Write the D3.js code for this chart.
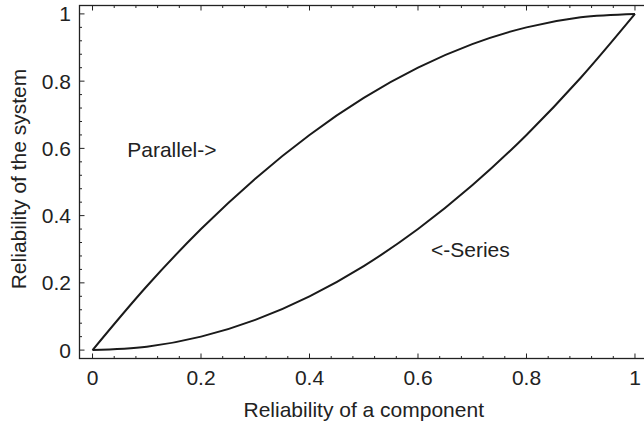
<!DOCTYPE html>
<html>
<head>
<meta charset="utf-8">
<script src="https://cdn.jsdelivr.net/npm/d3@7"></script>
<style>
  body { margin: 0; background: #fff; }
  text { font-family: "Liberation Sans", Arial, sans-serif; fill: #222; }
</style>
</head>
<body>
<div id="chart"></div>
<script>
// values
const components = [0, 0.1, 0.2, 0.3, 0.4, 0.5, 0.6, 0.7, 0.8, 0.9, 1];
const seriesValues = [0, 0.01, 0.04, 0.09, 0.16, 0.25, 0.36, 0.49, 0.64, 0.81, 1];
const parallelValues = [0, 0.19, 0.36, 0.51, 0.64, 0.75, 0.84, 0.91, 0.96, 0.99, 1];
const xTicks = [0, 0.2, 0.4, 0.6, 0.8, 1];
const yTicks = [0, 0.2, 0.4, 0.6, 0.8, 1];
const xTickLabels = ["0", "0.2", "0.4", "0.6", "0.8", "1"];
const yTickLabels = ["0", "0.2", "0.4", "0.6", "0.8", "1"];
const minorTicks = d3.range(0, 1.0001, 0.04);

const width = 644, height = 422;
const fontSize = 21;

const svg = d3.select("#chart")
  .append("svg")
  .attr("width", width)
  .attr("height", height);

// frame of the plot, right edge falls outside the picture
const plotLeft = 79.5, plotRight = 648, plotTop = 5.5, plotBottom = 358.5;

const x = d3.scaleLinear().domain([-0.024, 1.024]).range([plotLeft, plotRight]);
const y = d3.scaleLinear().domain([-0.025, 1.025]).range([plotBottom, plotTop]);

//frame
svg.append("rect")
  .attr("x", plotLeft)
  .attr("y", plotTop)
  .attr("width", plotRight - plotLeft)
  .attr("height", plotBottom - plotTop)
  .attr("fill", "none")
  .attr("stroke", "#222")
  .attr("stroke-width", 1.3);

//ticks pointing inward, on all visible sides
function tickLen(v) {
  return xTicks.some((t) => Math.abs(t - v) < 1e-6) ? 5 : 2.5;
}
const ticks = svg.append("g").attr("stroke", "#222").attr("stroke-width", 1);
minorTicks.forEach((v) => {
  ticks.append("line")
    .attr("x1", x(v)).attr("x2", x(v))
    .attr("y1", plotBottom).attr("y2", plotBottom - tickLen(v));
  ticks.append("line")
    .attr("x1", x(v)).attr("x2", x(v))
    .attr("y1", plotTop).attr("y2", plotTop + tickLen(v));
  ticks.append("line")
    .attr("x1", plotLeft).attr("x2", plotLeft + tickLen(v))
    .attr("y1", y(v)).attr("y2", y(v));
});

//tick labels
svg.append("g")
  .selectAll("text")
  .data(xTicks)
  .enter()
  .append("text")
  .attr("x", (d) => x(d))
  .attr("y", 377)
  .attr("text-anchor", "middle")
  .attr("dominant-baseline", "central")
  .style("font-size", fontSize + "px")
  .text((d, i) => xTickLabels[i]);

svg.append("g")
  .selectAll("text")
  .data(yTicks)
  .enter()
  .append("text")
  .attr("x", 71)
  .attr("y", (d) => y(d))
  .attr("text-anchor", "end")
  .attr("dominant-baseline", "central")
  .style("font-size", fontSize + "px")
  .text((d, i) => yTickLabels[i]);

//axis titles
svg.append("text")
  .attr("x", (plotLeft + plotRight) / 2)
  .attr("y", 409)
  .attr("text-anchor", "middle")
  .attr("dominant-baseline", "central")
  .style("font-size", fontSize + "px")
  .text("Reliability of a component");

svg.append("text")
  .attr("transform", "translate(18,179) rotate(-90)")
  .attr("text-anchor", "middle")
  .attr("dominant-baseline", "central")
  .style("font-size", fontSize + "px")
  .text("Reliability of the system");

//curves
const line = d3.line()
  .x((d) => x(d[0]))
  .y((d) => y(d[1]))
  .curve(d3.curveMonotoneX);

[seriesValues, parallelValues].forEach((vals) => {
  svg.append("path")
    .datum(components.map((c, i) => [c, vals[i]]))
    .attr("d", line)
    .attr("fill", "none")
    .attr("stroke", "#1a1a1a")
    .attr("stroke-width", 2);
});

//labels inside the plot
svg.append("text")
  .attr("x", x(0.064))
  .attr("y", y(0.598))
  .attr("dominant-baseline", "central")
  .style("font-size", fontSize + "px")
  .text("Parallel->");

svg.append("text")
  .attr("x", x(0.624))
  .attr("y", y(0.299))
  .attr("dominant-baseline", "central")
  .style("font-size", fontSize + "px")
  .text("<-Series");
</script>
</body>
</html>
